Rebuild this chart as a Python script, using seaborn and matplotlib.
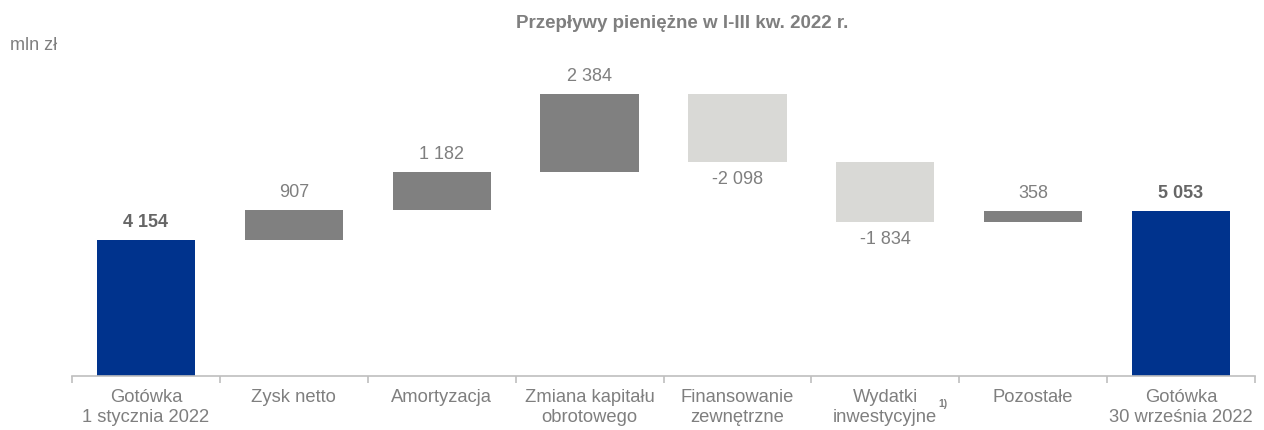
import pandas as pd
import matplotlib.pyplot as plt
import seaborn as sns
import numpy as np

# Data
categories = ["Gotówka\n1 stycznia 2022", "Zysk netto", "Amortyzacja",
              "Zmiana kapitału\nobrotowego", "Finansowanie\nzewnętrzne",
              "Wydatki\ninwestycyjne", "Pozostałe", "Gotówka\n30 września 2022"]
start_cash = 4154
changes = [907, 1182, 2384, -2098, -1834, 358]
end_cash = 5053

navy = "#00338D"
dark_grey = "#808080"
light_grey = "#D9D9D6"
text_grey = "#7F7F7F"

# Waterfall geometry
levels = np.cumsum([start_cash] + changes)
bottoms = [0] + [min(a, b) for a, b in zip(levels[:-1], levels[1:])] + [0]
heights = [start_cash] + [abs(c) for c in changes] + [end_cash]
colors = [navy] + [dark_grey if c > 0 else light_grey for c in changes] + [navy]

df = pd.DataFrame({"cat": categories, "height": heights, "bottom": bottoms})

sns.set_style("white")
plt.rcParams["font.family"] = ["Liberation Sans", "DejaVu Sans"]

fig = plt.figure(figsize=(12.64, 4.30), dpi=100)
ax = fig.add_axes([72 / 1264, 54 / 430, (1255 - 72) / 1264, 344 / 430])

sns.barplot(data=df, x="cat", y="height", bottom=df["bottom"], width=0.665,
            color=dark_grey, linewidth=0, ax=ax)
for patch, c in zip(ax.patches, colors):
    patch.set_facecolor(c)

# Value labels
ax.annotate(f"{start_cash:,}".replace(",", " "), (0, start_cash), xytext=(0, 6.5),
            textcoords="offset points", ha="center", va="bottom",
            fontsize=13, fontweight="bold", color="#666666")
for i, c in enumerate(changes, start=1):
    txt = f"{c:,}".replace(",", " ")
    if c > 0:
        ax.annotate(txt, (i, bottoms[i] + heights[i]), xytext=(0, 6.5),
                    textcoords="offset points", ha="center", va="bottom",
                    fontsize=13, color=text_grey)
    else:
        ax.annotate(txt, (i, bottoms[i]), xytext=(0, -6.5),
                    textcoords="offset points", ha="center", va="top",
                    fontsize=13, color=text_grey)
ax.annotate(f"{end_cash:,}".replace(",", " "), (7, end_cash), xytext=(0, 6.5),
            textcoords="offset points", ha="center", va="bottom",
            fontsize=13, fontweight="bold", color="#666666")

# Axes styling
ax.set_xlim(-0.5, 7.5)
ax.set_ylim(0, 10507)
ax.set_xlabel("")
ax.set_ylabel("")
ax.set_yticks([])
for s in ["top", "right", "left"]:
    ax.spines[s].set_visible(False)
ax.spines["bottom"].set_color("#BFBFBF")
ax.spines["bottom"].set_linewidth(1.2)
ax.set_xticks(range(len(categories)))
ax.set_xticklabels(categories, linespacing=1.3)
ax.set_xticks(np.arange(-0.5, 8, 1), minor=True)
ax.tick_params(axis="x", which="minor", bottom=True, length=5, width=1.2,
               color="#BFBFBF", direction="out")
ax.tick_params(axis="x", which="major", bottom=False, length=0, pad=9,
               labelsize=13.2, labelcolor=text_grey)

# Footnote marker
ax.text(5.36, -0.08, "1)", transform=ax.get_xaxis_transform(), fontsize=7.5,
        fontweight="bold", color=text_grey, ha="left", va="center")

fig.text(0.54, 0.946, "Przepływy pieniężne w I-III kw. 2022 r.", ha="center", va="center",
         fontsize=13.5, fontweight="bold", color=text_grey)
fig.text(0.008, 0.895, "mln zł", ha="left", va="center", fontsize=13, color=text_grey)

fig.savefig("out.png", dpi=100)
